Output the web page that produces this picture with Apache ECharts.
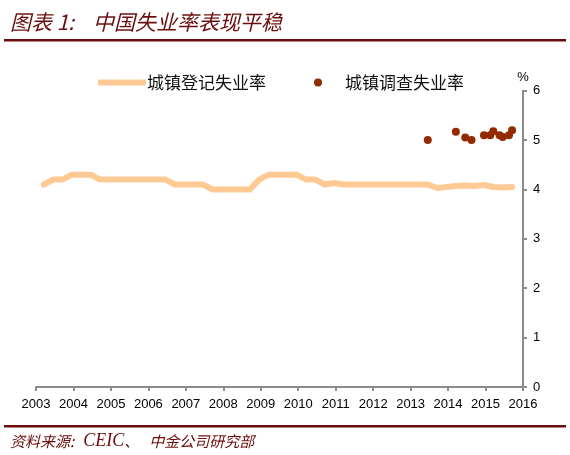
<!DOCTYPE html>
<html>
<head>
<meta charset="utf-8">
<script src="https://cdn.jsdelivr.net/npm/echarts@6/dist/echarts.min.js"></script>
<style>
html,body{margin:0;padding:0;background:#fff;}
#c{width:570px;height:455px;}
</style>
</head>
<body>
<div id="c"></div>
<script>
// Registered urban unemployment rate, quarterly (quarter-end month)
var regDates = [
  '2003-03','2003-06','2003-09','2003-12',
  '2004-03','2004-06','2004-09','2004-12',
  '2005-03','2005-06','2005-09','2005-12',
  '2006-03','2006-06','2006-09','2006-12',
  '2007-03','2007-06','2007-09','2007-12',
  '2008-03','2008-06','2008-09','2008-12',
  '2009-03','2009-06','2009-09','2009-12',
  '2010-03','2010-06','2010-09','2010-12',
  '2011-03','2011-06','2011-09','2011-12',
  '2012-03','2012-06','2012-09','2012-12',
  '2013-03','2013-06','2013-09','2013-12',
  '2014-03','2014-06','2014-09','2014-12',
  '2015-03','2015-06','2015-09'
];
var regValues = [
  4.1, 4.2, 4.2, 4.3,
  4.3, 4.3, 4.2, 4.2,
  4.2, 4.2, 4.2, 4.2,
  4.2, 4.2, 4.1, 4.1,
  4.1, 4.1, 4.0, 4.0,
  4.0, 4.0, 4.0, 4.2,
  4.3, 4.3, 4.3, 4.3,
  4.2, 4.2, 4.1, 4.13,
  4.1, 4.1, 4.1, 4.1,
  4.1, 4.1, 4.1, 4.1,
  4.1, 4.1, 4.03, 4.05,
  4.07, 4.08, 4.07, 4.09,
  4.05, 4.04, 4.05
];
// Surveyed urban unemployment rate, monthly
var surDates = ['2013-06','2014-03','2014-06','2014-08','2014-12','2015-02','2015-03','2015-05','2015-06','2015-08','2015-09'];
var surValues = [5.0, 5.17, 5.05, 5.0, 5.1, 5.1, 5.18, 5.1, 5.06, 5.1, 5.2];

var xTicks = {min: 2003, max: 2016, step: 1};
var yTicks = {min: 0, max: 6, step: 1};

function toYear(s) {
  var p = s.split('-');
  return +p[0] + (+p[1] - 0.5) / 12;
}
function pairs(d, v) {
  return d.map(function (s, i) { return [toYear(s), v[i]]; });
}

var maroon = '#6b0d0d';
var cjk = '"Noto Sans CJK SC", "Noto Sans", sans-serif';
var chart = echarts.init(document.getElementById('c'));
chart.setOption({
  animation: false,
  backgroundColor: '#fff',
  graphic: [
    {type: 'text', left: 10, top: 12, style: {text: '图表 1:    中国失业率表现平稳', fill: maroon, font: 'italic 21px ' + cjk}},
    {type: 'rect', shape: {x: 4, y: 39, width: 562, height: 2.5}, style: {fill: maroon}},
    {type: 'rect', shape: {x: 4, y: 425, width: 562, height: 2.5}, style: {fill: maroon}},
    {type: 'text', left: 10, top: 432, style: {
      text: '{a|资料来源:}{b|  CEIC}{a|、   中金公司研究部}',
      fill: maroon,
      rich: {
        a: {fontFamily: cjk, fontSize: 15, fontStyle: 'italic', fill: maroon},
        b: {fontFamily: '"Liberation Serif", serif', fontSize: 18, fontStyle: 'italic', fill: maroon}
      }
    }}
  ],
  legend: [
    {
      left: 98, top: 74, padding: 0, itemWidth: 48, itemHeight: 6, itemGap: 5,
      icon: 'roundRect',
      data: [{name: '城镇登记失业率', itemStyle: {color: '#ffc994'}}],
      textStyle: {fontFamily: cjk, fontSize: 17, color: '#111', padding: [0, 0, 0, -4]}
    },
    {
      left: 314, top: 74, padding: 0, itemWidth: 8, itemHeight: 8,
      icon: 'circle',
      data: [{name: '城镇调查失业率', itemStyle: {color: '#922b00'}}],
      textStyle: {fontFamily: cjk, fontSize: 17, color: '#111', padding: [0, 0, 0, 18]}
    }
  ],
  grid: {left: 36, right: 47, top: 90.7, bottom: 68},
  xAxis: {
    type: 'value', min: xTicks.min, max: xTicks.max, interval: xTicks.step,
    axisLine: {show: true, lineStyle: {color: '#8c8c8c', width: 2}},
    axisTick: {show: true, inside: false, length: 4, lineStyle: {color: '#8c8c8c', width: 2}},
    axisLabel: {color: '#000', fontFamily: 'Liberation Sans, Arial', fontSize: 13, margin: 11,
      formatter: function (v) { return String(v); }},
    splitLine: {show: false}
  },
  yAxis: {
    type: 'value', position: 'right', min: yTicks.min, max: yTicks.max, interval: yTicks.step,
    name: '%', nameLocation: 'end', nameGap: 7,
    nameTextStyle: {color: '#000', fontFamily: 'Liberation Sans, Arial', fontSize: 13, align: 'center'},
    axisLine: {show: true, lineStyle: {color: '#8c8c8c', width: 2}},
    axisTick: {show: true, inside: false, length: 4, lineStyle: {color: '#8c8c8c', width: 2}},
    axisLabel: {color: '#000', fontFamily: 'Liberation Sans, Arial', fontSize: 13, margin: 10},
    splitLine: {show: false}
  },
  series: [
    {
      name: '城镇登记失业率', type: 'line', data: pairs(regDates, regValues),
      symbol: 'none', smooth: false,
      lineStyle: {color: '#ffc994', width: 6, cap: 'round', join: 'round'},
      itemStyle: {color: '#ffc994'}
    },
    {
      name: '城镇调查失业率', type: 'scatter', data: pairs(surDates, surValues),
      symbol: 'circle', symbolSize: 8,
      itemStyle: {color: '#922b00', opacity: 1}
    }
  ]
});
</script>
</body>
</html>
